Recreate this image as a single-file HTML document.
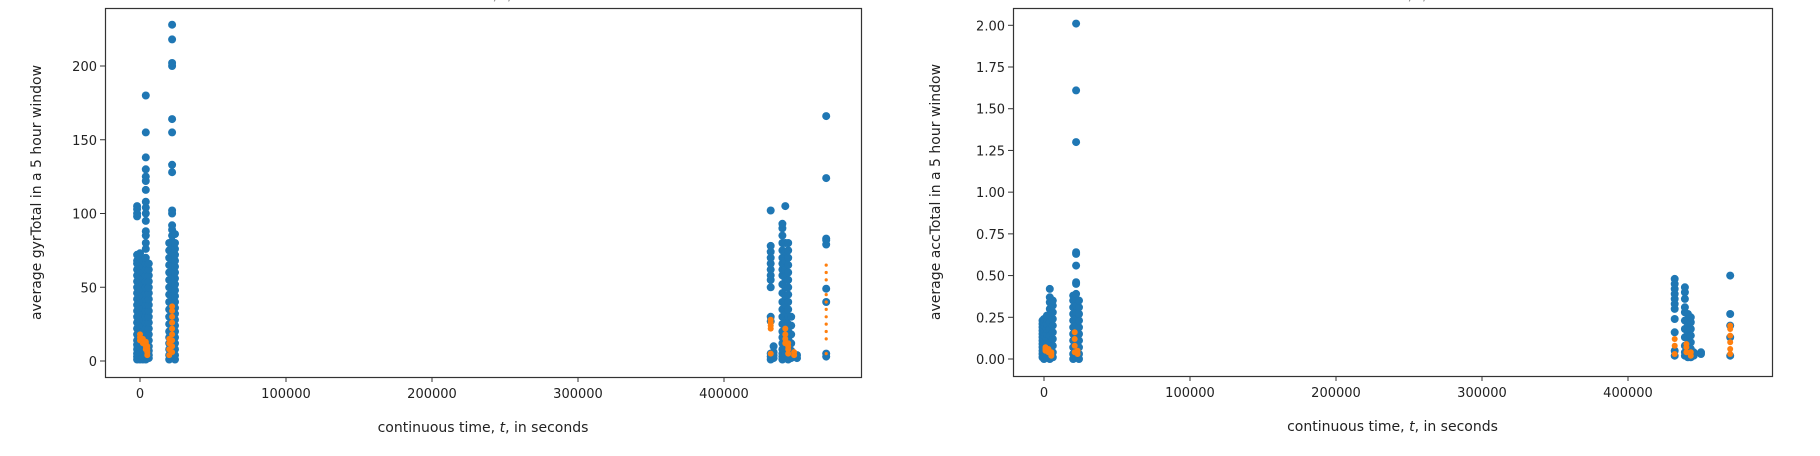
<!DOCTYPE html>
<html><head><meta charset="utf-8">
<style>
body{margin:0;background:#fff;}
svg{display:block;font-family:"DejaVu Sans","Liberation Sans",sans-serif;}
.tk{font-size:13px;fill:#222;}
.lb{font-size:14px;fill:#222;}
</style></head>
<body>
<svg id="chart" width="1820" height="456" viewBox="0 0 1820 456">
<text x="475" y="0" text-anchor="middle" class="lb" fill="#999" opacity="0.5">discontinuous time, t, in seconds</text>
<text x="1390" y="0" text-anchor="middle" class="lb" fill="#999" opacity="0.5">discontinuous time, t, in seconds</text>
</svg>
<script>
// x tick labels (shared)
const xTicks = [0, 100000, 200000, 300000, 400000];
// Left panel: gyrTotal
const gyrYTicks = [0, 50, 100, 150, 200];
const gyrBlueT = [-2000, 0, 2000, 4000, 6000, 20000, 22000, 24000, 432000, 434000, 440000, 442000, 444000, 446000, 450000, 470000];
const gyrBlueV = [
 [1,3,5,8,11,14,18,22,26,30,34,38,42,46,50,54,58,62,66,68,72,98,100,103,105],
 [1,2,4,6,9,12,15,19,23,27,31,35,39,43,47,51,55,58,61,64,67,70,73],
 [1,3,5,7,10,13,16,20,24,28,32,36,40,44,48,52,56,60,64,68],
 [1,3,6,9,12,15,18,22,26,30,34,38,42,46,50,54,58,62,66,70,76,80,85,88,95,100,104,108,116,122,125,130,138,155,180],
 [2,4,7,10,14,18,22,26,30,34,38,42,46,50,54,58,62,66],
 [1,4,8,12,16,20,25,30,35,40,45,50,55,60,65,70,75,80],
 [2,5,9,13,17,21,25,29,33,37,41,45,49,53,57,61,65,69,73,77,81,85,89,92,100,102,128,133,155,164,200,202,218,228],
 [1,4,8,12,16,20,24,28,32,36,40,44,48,52,56,60,64,68,72,76,80,86],
 [1,3,5,27,30,50,55,58,62,66,70,74,78,102],
 [2,4,6,10],
 [1,3,5,8,12,16,20,25,30,35,40,46,52,58,62,66,70,75,80,85,90,93],
 [2,5,9,14,20,26,32,38,44,50,56,62,68,74,80,105],
 [1,3,6,10,15,20,25,30,35,40,45,50,55,60,65,70,75,80],
 [2,4,7,12,18,24,30],
 [2,4],
 [3,5,40,49,79,82,83,124,166]
];
const gyrOrangeT = [0, 2000, 4000, 5000, 20000, 22000, 432000, 442000, 444000, 448000];
const gyrOrangeV = [
 [14,16,18],[12,14,15],[8,10,12,13],[4,6,8,10],
 [4,8,12,15],[6,10,14,18,22,26,30,34,37],
 [5,22,24,26,28],[12,15,18,22],[5,8,10,12],[4,6]
];
const gyrOrangeSmallT = [470000];
const gyrOrangeSmallV = [[5,15,20,25,30,35,40,45,55,60,65]];
// Right panel: accTotal
const accYTicks = [0, 0.25, 0.5, 0.75, 1.0, 1.25, 1.5, 1.75, 2.0];
const accBlueT = [-1000, 0, 2000, 4000, 6000, 20000, 22000, 24000, 432000, 439000, 441000, 443000, 445000, 450000, 470000];
const accBlueV = [
 [0.01,0.03,0.05,0.07,0.09,0.11,0.13,0.15,0.17,0.19,0.21,0.23],
 [0.0,0.02,0.04,0.06,0.08,0.1,0.12,0.14,0.16,0.18,0.2,0.22,0.24],
 [0.01,0.03,0.06,0.09,0.12,0.15,0.18,0.21,0.24,0.26],
 [0.0,0.03,0.06,0.1,0.14,0.18,0.22,0.26,0.3,0.34,0.37,0.42],
 [0.01,0.04,0.08,0.12,0.16,0.2,0.24,0.28,0.32,0.35],
 [0.0,0.03,0.07,0.11,0.15,0.19,0.23,0.27,0.31,0.35,0.38],
 [0.01,0.04,0.08,0.12,0.16,0.2,0.24,0.28,0.32,0.36,0.39,0.45,0.46,0.56,0.63,0.64,1.3,1.61,2.01],
 [0.0,0.03,0.07,0.11,0.15,0.19,0.23,0.27,0.31,0.35],
 [0.02,0.05,0.16,0.24,0.3,0.33,0.36,0.39,0.42,0.45,0.48],
 [0.02,0.04,0.08,0.13,0.18,0.23,0.28,0.31,0.36,0.4,0.43],
 [0.01,0.04,0.08,0.12,0.16,0.2,0.24,0.27],
 [0.01,0.03,0.06,0.1,0.14,0.18,0.22,0.25],
 [0.02,0.04],
 [0.03,0.04],
 [0.02,0.13,0.2,0.27,0.5]
];
const accOrangeT = [1000, 3000, 5000, 21000, 23000, 432000, 440000, 443000, 470000];
const accOrangeV = [
 [0.05,0.06,0.07],[0.04,0.05,0.06],[0.02,0.03,0.04],
 [0.04,0.08,0.12,0.16],[0.03,0.05],
 [0.03,0.08,0.12],[0.04,0.07,0.09],[0.02,0.04],[0.03,0.06,0.1,0.14,0.18,0.2]
];

const NS = 'http://www.w3.org/2000/svg';
const svg = document.getElementById('chart');
function mk(tag, attrs, parent){ const e=document.createElementNS(NS,tag); for(const k in attrs) e.setAttribute(k,attrs[k]); (parent||svg).appendChild(e); return e; }

function panel(p){
  const g = mk('g',{});
  
  
  const xs = t => p.x0 + (t/100000)*146;
  const ys = v => p.yZero - (v - 0)*p.yPerUnit;
  function draw(T, V, color, r, nm){
    T.forEach((t,i)=>{ V[i].forEach(v=>{
      const c = mk('circle',{cx:xs(t).toFixed(1), cy:ys(v).toFixed(1), r:r, fill:color}, g);
      
      
    });});
  }
  draw(p.bT, p.bV, '#1f77b4', 4, 'blue-point');
  draw(p.oT, p.oV, '#ff7f0e', 3, 'orange-point');
  if (p.osT) draw(p.osT, p.osV, '#ff7f0e', 1.6, 'orange-small-point');
  const fr = mk('rect',{x:p.L+0.5,y:p.T+0.5,width:p.R-p.L,height:p.B-p.T,fill:'none',stroke:'#333','stroke-width':1.2}, g);
  
  
  xTicks.forEach(t=>{
    const x = xs(t);
    mk('line',{x1:x,x2:x,y1:p.B,y2:p.B+5,stroke:'#333'}, g);
    const tx = mk('text',{x:x,y:p.B+21,'text-anchor':'middle',class:'tk'}, g);
    tx.textContent = String(t);
    
    
  });
  p.yTicks.forEach(v=>{
    const y = ys(v);
    mk('line',{x1:p.L-5,x2:p.L,y1:y,y2:y,stroke:'#333'}, g);
    const tx = mk('text',{x:p.L-8,y:y+5,'text-anchor':'end',class:'tk'}, g);
    tx.textContent = p.fmt(v);
    
    
  });
  const xl = mk('text',{x:(p.L+p.R)/2,y:p.B+55,'text-anchor':'middle',class:'lb'}, g);
  xl.innerHTML = 'continuous time, <tspan font-style="italic">t</tspan>, in seconds';
  
  
  const cy = (p.T+p.B)/2;
  const yl = mk('text',{x:p.ylx,y:cy,'text-anchor':'middle',class:'lb',transform:`rotate(-90 ${p.ylx} ${cy})`}, g);
  yl.textContent = p.ylabel;
  
  
}

panel({name:'gyr-panel', L:105, R:861, T:8, B:377, x0:140, yZero:361, yPerUnit:295/200,
  yTicks:gyrYTicks, fmt:v=>String(v), bT:gyrBlueT, bV:gyrBlueV, oT:gyrOrangeT, oV:gyrOrangeV,
  osT:gyrOrangeSmallT, osV:gyrOrangeSmallV, ylx:41, ylabel:'average gyrTotal in a 5 hour window'});
panel({name:'acc-panel', L:1013, R:1772, T:8, B:376, x0:1044, yZero:359, yPerUnit:333.7/2,
  yTicks:accYTicks, fmt:v=>v.toFixed(2), bT:accBlueT, bV:accBlueV, oT:accOrangeT, oV:accOrangeV,
  ylx:940, ylabel:'average   accTotal in a 5 hour window'});
</script>
</body></html>
